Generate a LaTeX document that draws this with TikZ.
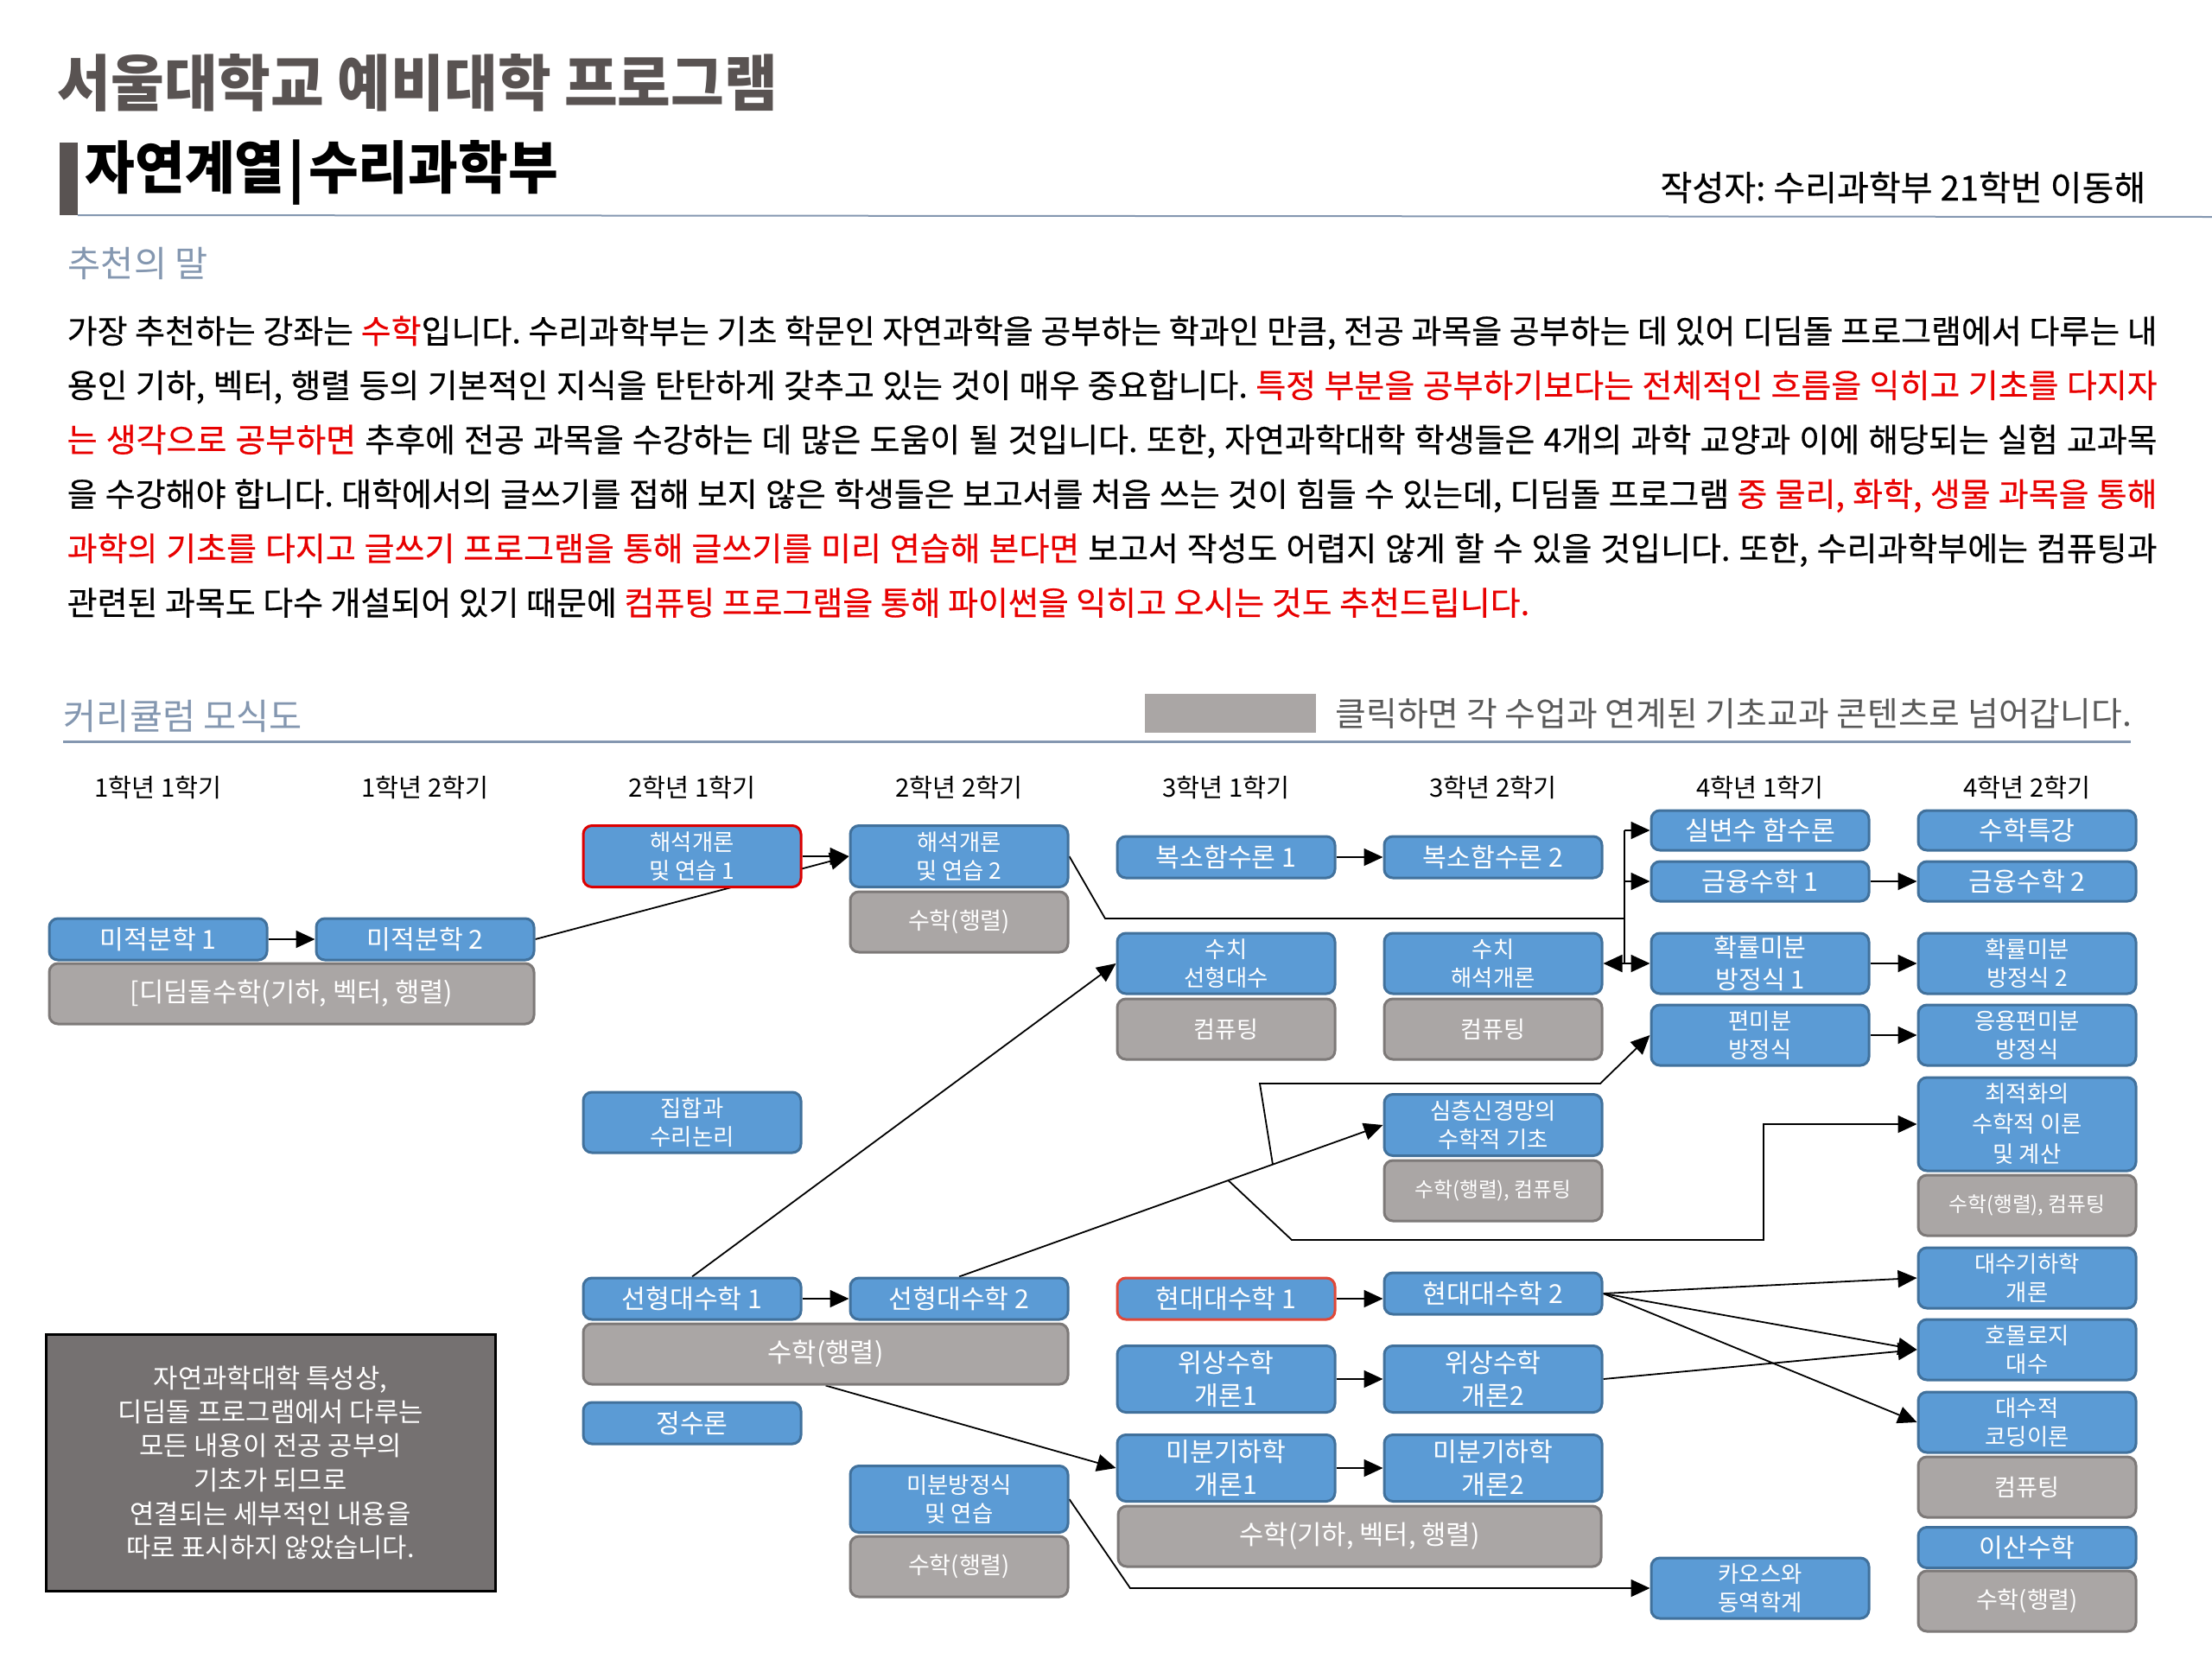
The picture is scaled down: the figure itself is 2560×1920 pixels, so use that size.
\documentclass[tikz,border=0pt]{standalone}
\usepackage{fontspec}
\setmainfont{Noto Sans CJK KR}
\newfontfamily\titlefont{Noto Sans CJK KR}[FakeStretch=0.95]
\newfontfamily\bodyfont{Noto Sans CJK KR}[FakeBold=0.4]
\usepackage{tikz}
\usetikzlibrary{positioning}
\usetikzlibrary{arrows.meta}
\usetikzlibrary{backgrounds}
\usetikzlibrary{calc}
\definecolor{blueft}{RGB}{91,155,213}
\definecolor{bluedk}{RGB}{65,113,156}
\definecolor{grayft}{RGB}{170,166,165}
\definecolor{graydk}{RGB}{125,121,120}
\definecolor{slate}{RGB}{132,151,176}
\definecolor{titlegray}{RGB}{89,83,82}
\definecolor{notegray}{RGB}{117,113,113}
\definecolor{legendgray}{RGB}{89,89,89}
\definecolor{redtx}{RGB}{232,0,0}
\definecolor{redbd}{RGB}{220,0,0}
\definecolor{redbdo}{RGB}{224,72,56}
\newcommand{\fsz}[2]{\fontsize{#1}{#2}\selectfont}
\frenchspacing
\tikzset{
    course/.style = {rectangle, rounded corners=1mm, line width=0.3mm, draw=bluedk, fill=blueft, text=white, align=center, inner sep=0pt, minimum width=25.2mm, minimum height=4.8mm, font=\fsz{8.6pt}{9.5pt}},
    coursetw/.style = {course, minimum height=7mm, font=\fsz{7.5pt}{9.4pt}},
    coursetb/.style = {course, minimum height=7.7mm, font=\fsz{8.6pt}{10.8pt}},
    courser/.style = {draw=redbd},
    coursero/.style = {draw=redbdo},
    basis/.style = {course, draw=graydk, fill=grayft, minimum height=7mm, font=\fsz{7.7pt}{9pt}},
    basisl/.style = {basis, font=\fsz{8.75pt}{9.5pt}},
    basiss/.style = {basis, font=\fsz{6.75pt}{8pt}},
    sem/.style = {inner sep=0pt, font=\fsz{8.34pt}{9.5pt}},
    heading/.style = {anchor=west, inner sep=0pt, text=slate, font=\fsz{11.8pt}{13pt}},
    notebox/.style = {rectangle, draw=black, line width=0.3mm, fill=notegray, text=white, align=center, minimum width=52mm, minimum height=29.7mm, font=\fsz{8.75pt}{11.2pt}},
    edgen/.style = {-{Triangle[length=2.2mm,width=2mm]}, line width=0.18mm},
    edgel/.style = {line width=0.18mm},
}
\newcommand{\R}[1]{\textcolor{redtx}{#1}}

\begin{document}
\begin{tikzpicture}[x=0.1mm, y=-0.1mm]
\useasboundingbox (0,0) rectangle (2560,1920);
% header
\fill[titlegray] (69,165) rectangle (90,249);
\node[anchor=west, inner sep=0pt, text=titlegray, font=\titlefont\bfseries\fsz{20.1pt}{22pt}] (title) at (66,96) {서울대학교 예비대학 프로그램};
\node[anchor=west, inner sep=0pt, font=\titlefont\bfseries\fsz{18.8pt}{21pt}] (dept) at (98,200) {자연계열\hspace{0.06em}|\hspace{0.06em}수리과학부};
\node[anchor=east, inner sep=0pt, font=\bodyfont\fsz{11.4pt}{12pt}] (byline) at (2484,217) {작성자: 수리과학부 21학번 이동해};
\draw[slate, line width=0.2mm] (90,249) -- (2560,251);
% recommendation
\node[heading] (recom) at (78,305) {추천의 말};
\node[anchor=north west, inner sep=0pt, align=left, font=\bodyfont\fsz{10.8pt}{17.9pt}] (para) at (77,365) {%
\makebox[241.9mm][s]{가장 추천하는 강좌는 \R{수학}입니다. 수리과학부는 기초 학문인 자연과학을 공부하는 학과인 만큼, 전공 과목을 공부하는 데 있어 디딤돌 프로그램에서 다루는 내}\\
\makebox[241.9mm][s]{용인 기하, 벡터, 행렬 등의 기본적인 지식을 탄탄하게 갖추고 있는 것이 매우 중요합니다. \R{특정 부분을 공부하기보다는 전체적인 흐름을 익히고 기초를 다지자}}\\
\makebox[241.9mm][s]{\R{는 생각으로 공부하면} 추후에 전공 과목을 수강하는 데 많은 도움이 될 것입니다. 또한, 자연과학대학 학생들은 4개의 과학 교양과 이에 해당되는 실험 교과목}\\
\makebox[241.9mm][s]{을 수강해야 합니다. 대학에서의 글쓰기를 접해 보지 않은 학생들은 보고서를 처음 쓰는 것이 힘들 수 있는데, 디딤돌 프로그램 \R{중 물리, 화학, 생물 과목을 통해}}\\
\makebox[241.9mm][s]{\R{과학의 기초를 다지고 글쓰기 프로그램을 통해 글쓰기를 미리 연습해 본다면} 보고서 작성도 어렵지 않게 할 수 있을 것입니다. 또한, 수리과학부에는 컴퓨팅과}\\
관련된 과목도 다수 개설되어 있기 때문에 \R{컴퓨팅 프로그램을 통해 파이썬을 익히고 오시는 것도 추천드립니다.}};
% curriculum
\node[heading] (curr) at (73,829) {커리큘럼 모식도};
\draw[slate, line width=0.3mm] (73,858) -- (2466,858);
\fill[grayft] (1325,803) rectangle (1523,848);
\node[anchor=west, inner sep=0pt, text=legendgray, font=\fsz{11.06pt}{12pt}] (legend) at (1545,826) {클릭하면 각 수업과 연계된 기초교과 콘텐츠로 넘어갑니다.};
\foreach \yr/\sm [count=\i from 0] in {1/1,1/2,2/1,2/2,3/1,3/2,4/1,4/2}
  \node[sem] (sem\i) at ({183+309*\i},911) {\yr{}학년 \sm{}학기};
% year 1
\node[course] at (183,1087) (mjb1) {미적분학 1};
\node[course] at (492,1087) (mjb2) {미적분학 2};
\node[basisl, minimum width=56.1mm] at (337.5,1150) (ddm) {[디딤돌수학(기하, 벡터, 행렬)};
% year 2
\node[coursetw, courser, minimum height=7.1mm] at (801,991) (hs1) {해석개론\\및 연습 1};
\node[coursetw, minimum height=7.1mm] at (1110,991) (hs2) {해석개론\\및 연습 2};
\node[basis] at (1110,1067) (hs2b) {수학(행렬)};
\node[coursetw] at (801,1299) (set) {집합과\\수리논리};
\node[course] at (801,1503) (la1) {선형대수학 1};
\node[course] at (1110,1503) (la2) {선형대수학 2};
\node[basisl, minimum width=56.1mm] at (955.5,1567) (lab) {수학(행렬)};
\node[course] at (801,1647) (num) {정수론};
\node[coursetw, minimum height=7.7mm] at (1110,1735) (ode) {미분방정식\\및 연습};
\node[basis] at (1110,1813) (odeb) {수학(행렬)};
% year 3
\node[course] at (1419,992) (cx1) {복소함수론 1};
\node[course] at (1728,992) (cx2) {복소함수론 2};
\node[coursetw] at (1419,1115) (nla) {수치\\선형대수};
\node[basis] at (1419,1191) (nlab) {컴퓨팅};
\node[coursetw] at (1728,1115) (nan) {수치\\해석개론};
\node[basis] at (1728,1191) (nanb) {컴퓨팅};
\node[coursetw, minimum height=7.1mm] at (1728,1302) (dnn) {심층신경망의\\수학적 기초};
\node[basiss] at (1728,1378) (dnnb) {수학(행렬), 컴퓨팅};
\node[course, coursero] at (1419,1503) (ma1) {현대대수학 1};
\node[course] at (1728,1497) (ma2) {현대대수학 2};
\node[coursetb] at (1419,1596) (top1) {위상수학\\개론1};
\node[coursetb] at (1728,1596) (top2) {위상수학\\개론2};
\node[coursetb] at (1419,1699) (dg1) {미분기하학\\개론1};
\node[coursetb] at (1728,1699) (dg2) {미분기하학\\개론2};
\node[basisl, minimum width=55.9mm] at (1573.5,1778) (dgb) {수학(기하, 벡터, 행렬)};
% year 4
\node[course, minimum height=4.6mm] at (2037,961) (rv) {실변수 함수론};
\node[course, minimum height=4.6mm] at (2346,961) (spc) {수학특강};
\node[course, minimum height=4.6mm] at (2037,1020) (fin1) {금융수학 1};
\node[course, minimum height=4.6mm] at (2346,1020) (fin2) {금융수학 2};
\node[coursetw, font=\fsz{8.3pt}{10.3pt}] at (2037,1115) (sde1) {확률미분\\방정식 1};
\node[coursetw] at (2346,1115) (sde2) {확률미분\\방정식 2};
\node[coursetw] at (2037,1198) (pde) {편미분\\방정식};
\node[coursetw] at (2346,1198) (apde) {응용편미분\\방정식};
\node[coursetw, minimum height=10.8mm, font=\fsz{7.5pt}{9.96pt}] at (2346,1301) (opt) {최적화의\\수학적 이론\\및 계산};
\node[basiss] at (2346,1395) (optb) {수학(행렬), 컴퓨팅};
\node[coursetw] at (2346,1479) (ag) {대수기하학\\개론};
\node[coursetw] at (2346,1562) (ho) {호몰로지\\대수};
\node[coursetw] at (2346,1646) (code) {대수적\\코딩이론};
\node[basis] at (2346,1721) (codeb) {컴퓨팅};
\node[course, minimum height=4.7mm] at (2346,1791) (dm) {이산수학};
\node[basis] at (2346,1853) (dmb) {수학(행렬)};
\node[coursetw] at (2037,1838) (chaos) {카오스와\\동역학계};
% note
\node[notebox] at (313,1693) (note) {자연과학대학 특성상,\\디딤돌 프로그램에서 다루는\\모든 내용이 전공 공부의\\기초가 되므로\\연결되는 세부적인 내용을\\따로 표시하지 않았습니다.};
% connectors
\coordinate (tr) at (1880,1063);
\begin{scope}[on background layer]
\draw[edgen] (mjb1) -- (mjb2);
\draw[edgen] (mjb2.east) -- (hs2.west);
\draw[edgen] (hs1) -- (hs2);
\draw[edgel] (hs2.east) -- (1279,1063) -- (tr);
\draw[edgel] (tr |- rv.west) -- (tr |- sde1.west);
\draw[edgen] (tr |- rv.west) -- (rv.west);
\draw[edgen] (tr |- fin1.west) -- (fin1.west);
\draw[edgen] (tr |- sde1.west) -- (sde1.west);
\draw[edgen] (tr |- nan.east) -- (nan.east);
\draw[edgen] (cx1) -- (cx2);
\draw[edgen] (fin1) -- (fin2);
\draw[edgen] (sde1) -- (sde2);
\draw[edgen] (pde) -- (apde);
\draw[edgen] (la1) -- (la2);
\draw[edgen] (la1.north) -- (nla.west);
\draw[edgen] (la2.north) -- (dnn.west);
\draw[edgen] ($(la2.north)!0.635!(dnn.west)$) -- (1495,1435) -- (2041,1435) |- (opt.west);
\draw[edgen] ($(la2.north)!0.74!(dnn.west)$) -- (1458,1254) -- (1852,1254) -- (pde.west);
\draw[edgen] (lab.south) -- (dg1.west);
\draw[edgen] (ode.east) -- (1308,1838) -- (chaos.west);
\draw[edgen] (ma1.east) -- (ma1.east -| ma2.west);
\draw[edgen] (ma2.east) -- (ag.west);
\draw[edgen] (ma2.east) -- (ho.west);
\draw[edgen] (ma2.east) -- (code.west);
\draw[edgen] (top2.east) -- (ho.west);
\draw[edgen] (top1) -- (top2);
\draw[edgen] (dg1) -- (dg2);
\end{scope}
\end{tikzpicture}
\end{document}
